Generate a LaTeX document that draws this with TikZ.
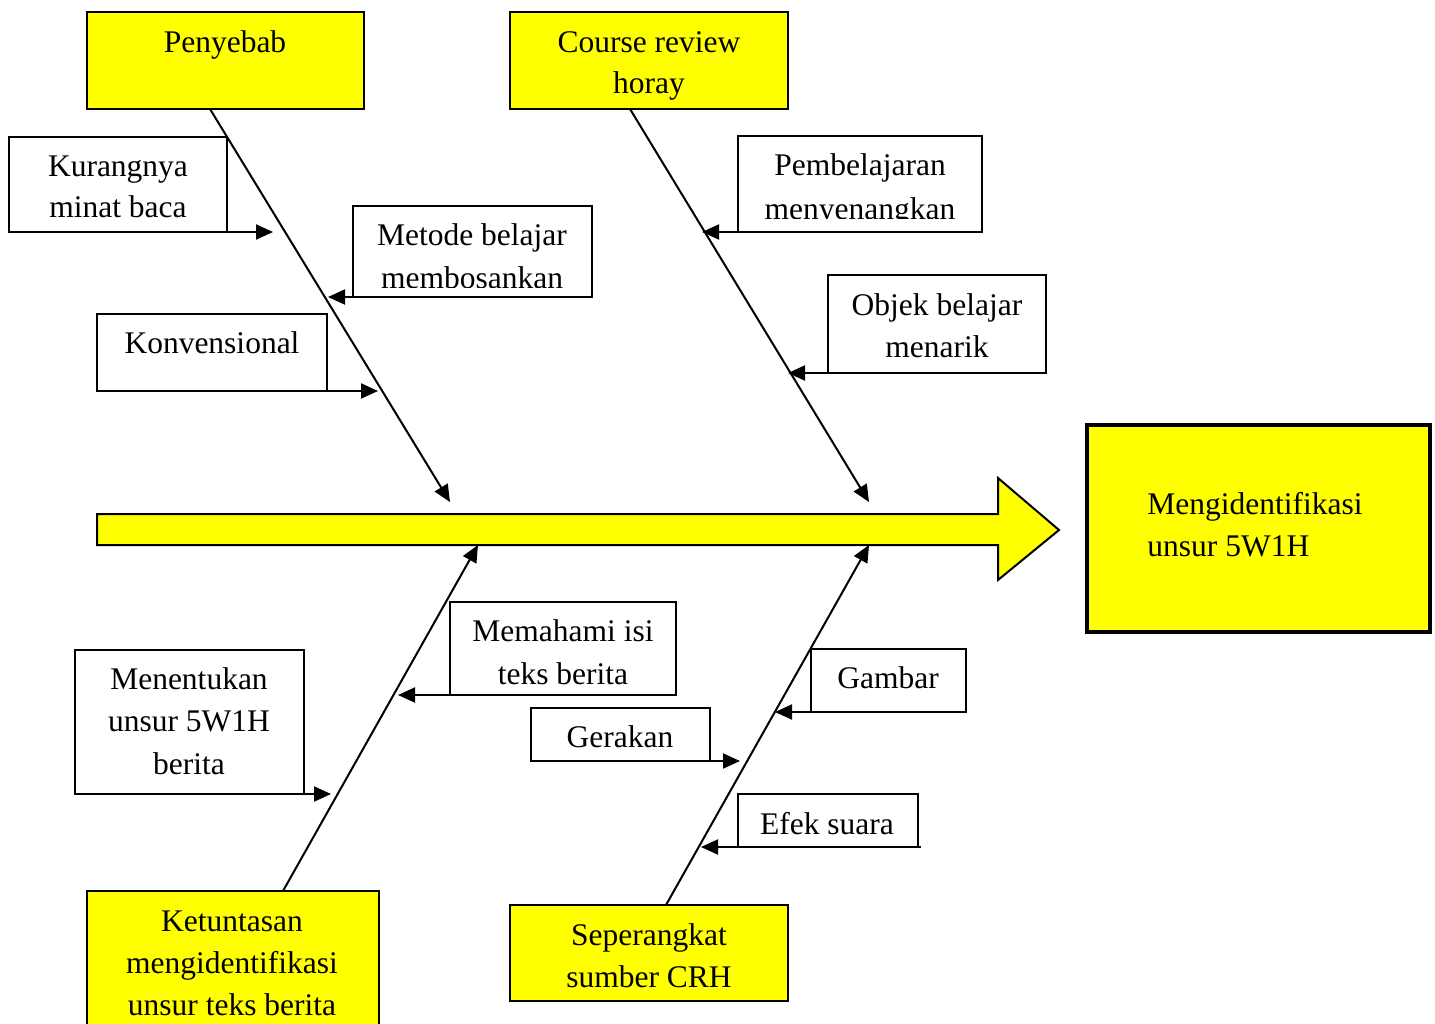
\documentclass[tikz,border=0pt]{standalone}
\usepackage{fontspec}
\setmainfont{Liberation Serif}
\usetikzlibrary{arrows.meta,fit}
\definecolor{fy}{RGB}{255,255,0}
\begin{document}
\begin{tikzpicture}[x=0.5pt,y=-0.5pt,
  box/.style={draw=black,line width=1pt,inner sep=0pt,outer sep=0pt,rectangle},
  ybox/.style={box,fill=fy},
  wbox/.style={box,fill=white},
  txt/.style={font=\fontsize{15.75}{21}\selectfont,inner sep=0pt,anchor=base},
  ltxt/.style={txt,anchor=base west},
  spine/.style={line width=1pt,-{Triangle[length=8.5pt,width=7.5pt]}},
  bone/.style={line width=1pt,-{Triangle[length=8.5pt,width=7.5pt]}},
]
\useasboundingbox (0,0) rectangle (1435,1023);

% spine coordinates
\coordinate (s1a) at (210,109);  \coordinate (s1b) at (450,502);
\coordinate (s2a) at (630,109);  \coordinate (s2b) at (869,502);
\coordinate (s3a) at (283,891);  \coordinate (s3b) at (478,545);
\coordinate (s4a) at (666,905);  \coordinate (s4b) at (869,545);

% tips of bones
\coordinate (tkur) at (273,232);
\coordinate (tmet) at (328,297);
\coordinate (tkon) at (378,391);
\coordinate (tpem) at (702,232);
\coordinate (tobj) at (788,373);
\coordinate (tmem) at (398,695);
\coordinate (tmen) at (331,794);
\coordinate (tger) at (740,761);
\coordinate (tgam) at (775,712);
\coordinate (tefe) at (701,847);

% main arrow
\draw[line width=1pt,fill=fy,line join=miter]
  (97,514) -- (998,514) -- (998,478) -- (1059,530) -- (998,580) -- (998,545) -- (97,545) -- cycle;

% spines
\draw[spine] (s1a) -- (s1b);
\draw[spine] (s2a) -- (s2b);
\draw[spine] (s3a) -- (s3b);
\draw[spine] (s4a) -- (s4b);

% boxes
\node[ybox,fit={(87,12) (364,109)}] (pen) {};
\node[ybox,fit={(510,12) (788,109)}] (crh) {};
\node[wbox,fit={(9,137) (227,232)}] (kur) {};
\node[wbox,fit={(353,206) (592,297)}] (met) {};
\node[wbox,fit={(97,314) (327,391)}] (kon) {};
\node[wbox,fit={(738,136) (982,232)}] (pem) {};
\node[wbox,fit={(828,275) (1046,373)}] (obj) {};
\node[ybox,line width=2pt,fit={(1087,425) (1430,632)}] (goal) {};
\node[ybox,fit={(87,891) (379,1040)}] (ket) {};
\node[wbox,fit={(450,602) (676,695)}] (mem) {};
\node[wbox,fit={(75,650) (304,794)}] (men) {};
\node[wbox,fit={(531,708) (710,761)}] (ger) {};
\node[wbox,fit={(811,649) (966,712)}] (gam) {};
\node[wbox,fit={(738,794) (918,847)}] (efe) {};
\node[ybox,fit={(510,905) (788,1001)}] (sep) {};

% bones
\draw[bone] (kur.south east) -- (tkur);
\draw[bone] (met.south west) -- (tmet);
\draw[bone] (kon.south east) -- (tkon);
\draw[bone] (pem.south west) -- (tpem);
\draw[bone] (obj.south west) -- (tobj);
\draw[bone] (mem.south west) -- (tmem);
\draw[bone] (men.south east) -- (tmen);
\draw[bone] (ger.south east) -- (tger);
\draw[bone] (gam.south west) -- (tgam);
\draw[bone] ([xshift=1.5pt]efe.south east) -- (tefe);

% texts
\node[txt] (pen1) at (225,52) {Penyebab};
\node[txt] (crh1) at (649,52) {Course review};
\node[txt] (crh2) at (649,93) {horay};
\node[txt] (kur1) at (118,176) {Kurangnya};
\node[txt] (kur2) at (118,217) {minat baca};
\node[txt] (met1) at (472,245) {Metode belajar};
\begin{scope}
  \clip (353,206) rectangle (592,287.5);
  \node[txt] (met2) at (472,288) {membosankan};
\end{scope}
\node[txt] (kon1) at (212,353) {Konvensional};
\node[txt] (pem1) at (860,175) {Pembelajaran};
\begin{scope}
  \clip (738,136) rectangle (982,218);
  \node[txt] (pem2) at (860,219) {menyenangkan};
\end{scope}
\node[txt] (obj1) at (937,315) {Objek belajar};
\node[txt] (obj2) at (937,357) {menarik};
\node[ltxt] (goal1) at (1147,514) {Mengidentifikasi};
\node[ltxt] (goal2) at (1147,556) {unsur 5W1H};
\node[txt] (mem1) at (563,641) {Memahami isi};
\node[txt] (mem2) at (563,684) {teks berita};
\node[txt] (men1) at (189,689) {Menentukan};
\node[txt] (men2) at (189,731) {unsur 5W1H};
\node[txt] (men3) at (189,774) {berita};
\node[txt] (ger1) at (620,747) {Gerakan};
\node[txt] (gam1) at (888,688) {Gambar};
\node[txt] (efe1) at (827,834) {Efek suara};
\node[txt] (ket1) at (232,931) {Ketuntasan};
\node[txt] (ket2) at (232,973) {mengidentifikasi};
\node[txt] (ket3) at (232,1015) {unsur teks berita};
\node[txt] (sep1) at (649,945) {Seperangkat};
\node[txt] (sep2) at (649,987) {sumber CRH};
\end{tikzpicture}
\end{document}
